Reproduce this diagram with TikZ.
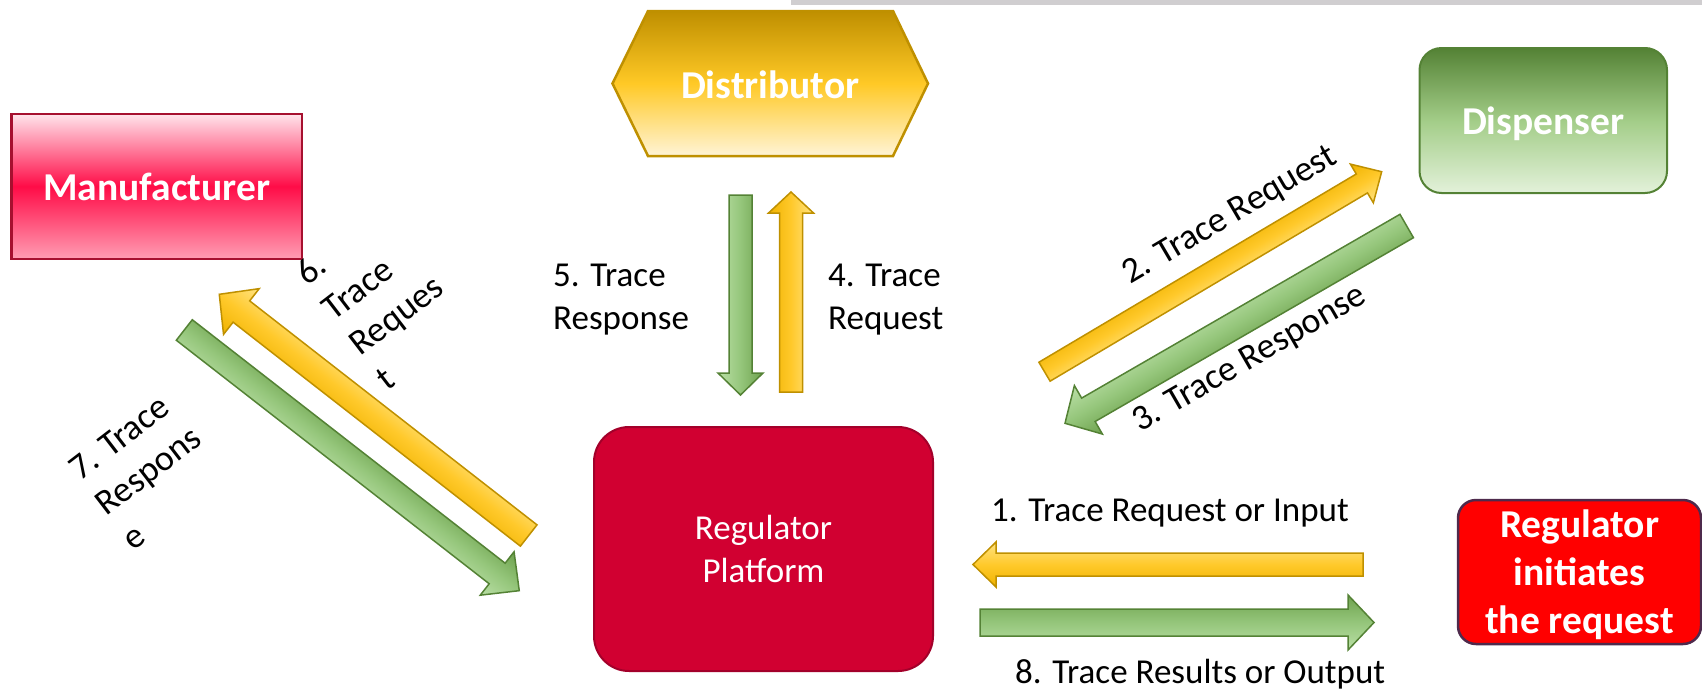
\documentclass[tikz,border=0pt]{standalone}
\usepackage{fontspec}
\setmainfont{Carlito}

\definecolor{barGray}{HTML}{D0CED0}
\definecolor{mfgTop}{HTML}{FFE4EB}
\definecolor{mfgMid}{HTML}{FF0C47}
\definecolor{mfgBot}{HTML}{FF9DB3}
\definecolor{mfgLine}{HTML}{A6102F}
\definecolor{distTop}{HTML}{BF8F00}
\definecolor{distMid}{HTML}{FFC926}
\definecolor{distBot}{HTML}{FFF4D6}
\definecolor{distLine}{HTML}{BF9000}
\definecolor{dispTop}{HTML}{548235}
\definecolor{dispMid}{HTML}{A3CD88}
\definecolor{dispBot}{HTML}{E3F1DA}
\definecolor{dispLine}{HTML}{548235}
\definecolor{regFill}{HTML}{D10031}
\definecolor{regLine}{HTML}{A3002A}
\definecolor{initFill}{HTML}{FF0000}
\definecolor{initLine}{HTML}{4E2A4C}
\definecolor{goldEdge}{HTML}{F0B300}
\definecolor{goldMid}{HTML}{FFC92B}
\definecolor{goldLight}{HTML}{FFE382}
\definecolor{goldLine}{HTML}{BF9000}
\definecolor{greenDark}{HTML}{6EA24E}
\definecolor{greenMid}{HTML}{95C67B}
\definecolor{greenLight}{HTML}{BADFA6}
\definecolor{greenLine}{HTML}{548235}

\makeatletter
% Block arrow from coordinate #1 (tail) to #2 (tip):
% shaft width #3, head width #4, head length #5 (all pt), style #6.
% Drawn in a rotated canvas so the shading runs across the arrow.
\newcommand\blockarrow[6]{%
  \pgfmathanglebetweenpoints{\pgfpointanchor{#1}{center}}{\pgfpointanchor{#2}{center}}%
  \edef\ba@ang{\pgfmathresult}%
  \pgfpointdiff{\pgfpointanchor{#1}{center}}{\pgfpointanchor{#2}{center}}%
  \pgfgetlastxy{\ba@dx}{\ba@dy}%
  \pgfmathsetmacro\ba@len{veclen(\ba@dx,\ba@dy)}%
  \begin{scope}[transform canvas={shift={(#1)},rotate=\ba@ang}]
    \path[#6] (0pt,{#3pt/2}) -- ({\ba@len pt-#5pt},{#3pt/2}) -- ({\ba@len pt-#5pt},{#4pt/2})
      -- ({\ba@len pt},0pt) -- ({\ba@len pt-#5pt},{-#4pt/2}) -- ({\ba@len pt-#5pt},{-#3pt/2})
      -- (0pt,{-#3pt/2}) -- cycle;
  \end{scope}}
\makeatother

\begin{document}
\begin{tikzpicture}[x=1pt,y=-1pt,
  lbl/.style={inner sep=0pt,font=\fontsize{35}{43}\selectfont,align=left,anchor=base west},
  rlbl/.style={inner sep=0pt,font=\fontsize{36}{44}\selectfont,align=left,anchor=base west},
  ttl/.style={inner sep=0pt,text=white,font=\fontsize{39.5}{48}\selectfont\bfseries,align=center},
  mfgbox/.style={ttl,draw=mfgLine,line width=2.5pt,top color=mfgTop,bottom color=mfgBot,middle color=mfgMid},
  distshape/.style={draw=distLine,line width=2.5pt,top color=distTop,bottom color=distBot,middle color=distMid},
  dispbox/.style={ttl,draw=dispLine,line width=2pt,rounded corners=22pt,top color=dispTop,bottom color=dispBot,middle color=dispMid},
  regbox/.style={inner sep=0pt,text=white,font=\fontsize{35}{43}\selectfont,align=center,
    draw=regLine,line width=2pt,fill=regFill,rounded corners=35pt},
  initbox/.style={ttl,draw=initLine,line width=2.5pt,fill=initFill,rounded corners=18pt},
  goldarrow/.style={draw=goldLine,line width=1.5pt,top color=goldEdge,bottom color=goldLight,middle color=goldMid},
  greenarrow/.style={draw=greenLine,line width=1.5pt,top color=greenDark,bottom color=greenLight,middle color=greenMid}]
\useasboundingbox (0,0) rectangle (1702,691);

% thin grey strip along the top edge
\fill[barGray] (791,0) rectangle (1702,4.7);

% parties
\node[mfgbox,minimum width=290.5pt,minimum height=145pt] (manufacturer) at (156.75,186.5) {Manufacturer};
\path[distshape] (612.5,83.5) -- (648,11) -- (893,11) -- (928,83.5) -- (893,156) -- (648,156) -- cycle;
\node[ttl,anchor=base] (distributor) at (770.25,98) {Distributor};
\node[dispbox,minimum width=247.5pt,minimum height=145pt,text depth=0pt] (dispenser) at (1543.25,120.5) {Dispenser};
\node[regbox,minimum width=339pt,minimum height=244pt] (platform) at (763.5,549) {Regulator\\Platform};
\node[initbox,minimum width=243pt,minimum height=144pt,text depth=0pt] (initiator) at (1579.5,572) {Regulator\\initiates\\the request};

% arrow end points
\coordinate (a1tail) at (1363,564.5);   \coordinate (a1tip) at (973,564.5);
\coordinate (a2tail) at (1044.5,371.7); \coordinate (a2tip) at (1381.7,171.7);
\coordinate (a3tail) at (1406.7,226);   \coordinate (a3tip) at (1065,423.3);
\coordinate (a4tail) at (791,392);      \coordinate (a4tip) at (791,192);
\coordinate (a5tail) at (740.5,195);    \coordinate (a5tip) at (740.5,395);
\coordinate (a6tail) at (528.7,535.5);  \coordinate (a6tip) at (219.3,294.3);
\coordinate (a7tail) at (184.3,330);    \coordinate (a7tip) at (519.3,590.7);
\coordinate (a8tail) at (980,622.5);    \coordinate (a8tip) at (1374,622.5);

\blockarrow{a1tail}{a1tip}{23}{45}{23}{goldarrow}
\blockarrow{a2tail}{a2tip}{22}{45}{23}{goldarrow}
\blockarrow{a3tail}{a3tip}{27}{56}{27}{greenarrow}
\blockarrow{a4tail}{a4tip}{23}{45}{21}{goldarrow}
\blockarrow{a5tail}{a5tip}{23}{45}{22}{greenarrow}
\blockarrow{a6tail}{a6tip}{27}{58}{28}{goldarrow}
\blockarrow{a7tail}{a7tip}{26}{55}{28}{greenarrow}
\blockarrow{a8tail}{a8tip}{27}{55}{26}{greenarrow}

% step labels (multi-line labels are anchored at the baseline of their last line)
\node[lbl] (lab1) at (991,521) {1. Trace Request or Input};
\node[rlbl,rotate=30.5] (lab2) at (1130,285) {2. Trace Request};
\node[rlbl,rotate=30] (lab3) at (1140,433) {3. Trace Response};
\node[lbl] (lab4) at (828,329) {4. Trace\\Request};
\node[lbl] (lab5) at (553,329) {5. Trace\\Response};
\node[rlbl,rotate=37.5] (lab6) at (387.4,391.7) {6.\\Trace\\Reques\\t};
\node[rlbl,rotate=37.5] (lab7) at (133.6,551.8) {7. Trace\\Respons\\e};
\node[lbl] (lab8) at (1015,683) {8. Trace Results or Output};
\end{tikzpicture}
\end{document}
